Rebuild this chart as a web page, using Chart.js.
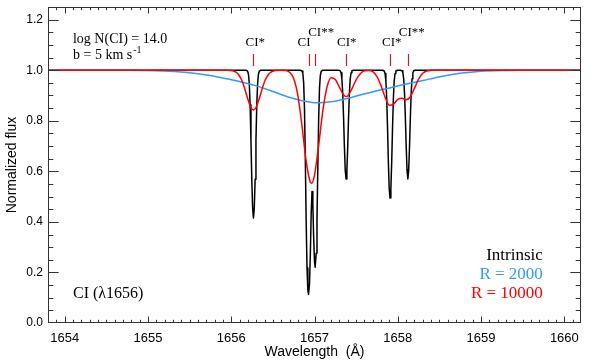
<!DOCTYPE html>
<html>
<head>
<meta charset="utf-8">
<script src="https://cdn.jsdelivr.net/npm/chart.js@4.4.1/dist/chart.umd.min.js"></script>
<style>
  html, body { margin: 0; padding: 0; background: #fff; }
</style>
</head>
<body>
<canvas id="chart" width="599" height="360"></canvas>
<script>
// ── DATOS ─────────────────────────────────────────────────────────────────────
var xTicks = [1654, 1655, 1656, 1657, 1658, 1659, 1660];
var yTicks = [0.0, 0.2, 0.4, 0.6, 0.8, 1.0, 1.2];

// lineas del multiplete CI 1656
var lineWave  = [1656.267, 1656.928, 1657.008, 1657.379, 1657.907, 1658.121];
var lineLabel = ['CI*', 'CI', 'CI**', 'CI*', 'CI*', 'CI**'];

// espectro intrinseco (negro)
var intrinsicWave = [
  1653.8,
  1656.177, 1656.197, 1656.207, 1656.217, 1656.227, 1656.237, 1656.247, 1656.257, 1656.267,
  1656.277, 1656.287, 1656.297, 1656.307, 1656.317, 1656.327, 1656.337, 1656.357,
  1656.83, 1656.85, 1656.86, 1656.87, 1656.88, 1656.89, 1656.90, 1656.91, 1656.92, 1656.928,
  1656.94, 1656.95, 1656.96, 1656.97, 1656.98, 1656.99, 1657.00, 1657.008, 1657.02, 1657.03,
  1657.04, 1657.05, 1657.06, 1657.07, 1657.08, 1657.10,
  1657.289, 1657.309, 1657.319, 1657.329, 1657.339, 1657.349, 1657.359, 1657.369, 1657.379,
  1657.389, 1657.399, 1657.409, 1657.419, 1657.429, 1657.439, 1657.449, 1657.469,
  1657.817, 1657.837, 1657.847, 1657.857, 1657.867, 1657.877, 1657.887, 1657.897, 1657.907,
  1657.917, 1657.927, 1657.937, 1657.947, 1657.957, 1657.967, 1657.977, 1657.997,
  1658.031, 1658.051, 1658.061, 1658.071, 1658.081, 1658.091, 1658.101, 1658.111, 1658.121,
  1658.131, 1658.141, 1658.151, 1658.161, 1658.171, 1658.181, 1658.191, 1658.211,
  1660.2
];
var intrinsicFlux = [
  1.0,
  1.0, 0.996, 0.984, 0.947, 0.862, 0.723, 0.569, 0.455, 0.415,
  0.455, 0.569, 0.723, 0.862, 0.947, 0.984, 0.996, 1.0,
  1.0, 0.997, 0.987, 0.949, 0.845, 0.645, 0.402, 0.218, 0.131, 0.113,
  0.155, 0.270, 0.430, 0.520, 0.470, 0.338, 0.243, 0.221, 0.276, 0.414,
  0.616, 0.808, 0.928, 0.979, 0.995, 1.0,
  1.0, 0.998, 0.990, 0.966, 0.909, 0.813, 0.698, 0.605, 0.570,
  0.605, 0.698, 0.813, 0.909, 0.966, 0.990, 0.998, 1.0,
  1.0, 0.997, 0.987, 0.957, 0.888, 0.772, 0.636, 0.532, 0.494,
  0.532, 0.636, 0.772, 0.888, 0.957, 0.987, 0.997, 1.0,
  1.0, 0.998, 0.990, 0.966, 0.909, 0.813, 0.698, 0.605, 0.570,
  0.605, 0.698, 0.813, 0.909, 0.966, 0.990, 0.998, 1.0,
  1.0
];

// R = 2000 (azul)
var r2000Wave = [
  1653.8, 1654.8, 1655.0, 1655.25, 1655.5, 1655.75, 1655.95, 1656.1, 1656.3, 1656.5,
  1656.65, 1656.8, 1656.95, 1657.05, 1657.2, 1657.35, 1657.55, 1657.75, 1657.9, 1658.1,
  1658.3, 1658.45, 1658.65, 1658.8, 1659.0, 1659.25, 1659.5, 1660.2
];
var r2000Flux = [
  1.0, 1.0, 0.999, 0.996, 0.990, 0.979, 0.966, 0.955, 0.938, 0.916,
  0.898, 0.883, 0.873, 0.871, 0.875, 0.885, 0.902, 0.919, 0.930, 0.945,
  0.959, 0.970, 0.983, 0.990, 0.996, 0.999, 1.0, 1.0
];

// R = 10000 (rojo)
var r10000Wave = [
  1653.8, 1655.947, 1655.987, 1656.027, 1656.067, 1656.087, 1656.107, 1656.127, 1656.147,
  1656.167, 1656.187, 1656.207, 1656.227, 1656.247, 1656.267, 1656.287, 1656.307, 1656.327,
  1656.347, 1656.367, 1656.387, 1656.407, 1656.427, 1656.447, 1656.467, 1656.507, 1656.547,
  1656.60, 1656.65, 1656.70, 1656.75, 1656.80, 1656.85, 1656.90, 1656.95, 1656.966, 1657.00,
  1657.05, 1657.10, 1657.15, 1657.20, 1657.25, 1657.30, 1657.35, 1657.379, 1657.40, 1657.45,
  1657.50, 1657.55, 1657.60, 1657.65, 1657.70, 1657.75, 1657.80, 1657.85, 1657.90, 1657.95,
  1658.00, 1658.05, 1658.10, 1658.15, 1658.20, 1658.25, 1658.30, 1658.35, 1658.40, 1658.45,
  1660.2
];
var r10000Flux = [
  1.0, 1.0, 0.999, 0.997, 0.990, 0.983, 0.973, 0.960, 0.942,
  0.921, 0.899, 0.878, 0.859, 0.847, 0.843, 0.847, 0.859, 0.878,
  0.899, 0.921, 0.942, 0.960, 0.973, 0.983, 0.990, 0.997, 0.999,
  1.0, 0.999, 0.992, 0.967, 0.900, 0.780, 0.640, 0.557, 0.553, 0.585,
  0.703, 0.839, 0.933, 0.970, 0.963, 0.932, 0.902, 0.896, 0.899, 0.927,
  0.962, 0.986, 0.998, 0.999, 0.994, 0.975, 0.938, 0.891, 0.861, 0.866,
  0.885, 0.889, 0.883, 0.894, 0.928, 0.965, 0.988, 0.997, 0.9995, 1.0,
  1.0
];

var legendText  = ['Intrinsic', 'R = 2000', 'R = 10000'];
var COL_BLACK = '#000000';
var COL_BLUE  = '#3399ff';
var COL_RED   = '#ff0000';
var COL_MARK  = '#b02828';

function puntos(w, f) {
  return w.map(function(v, i) { return { x: v, y: f[i] }; });
}

// ── EJES, TICKS Y TEXTOS ──────────────────────────────────────────────────────
var marcoPlugin = {
  id: 'marco',
  afterDatasetsDraw: function(chart) {
    var ctx = chart.ctx, a = chart.chartArea;
    var xs = chart.scales.x, ys = chart.scales.y;
    ctx.save();

    // marco
    ctx.strokeStyle = '#333';
    ctx.lineWidth = 1;
    ctx.strokeRect(a.left + 0.5, a.top + 0.5, a.right - a.left - 1, a.bottom - a.top - 1);

    // ticks hacia adentro (estilo IDL)
    var xMaj = 6.5, xMin = 3.2, yMaj = 10.7, yMin = 5.3;
    ctx.beginPath();
    for (var i = 1; i < 64; i++) {
      var v = Math.round((1653.8 + i * 0.1) * 10) / 10;
      var px = Math.round(xs.getPixelForValue(v)) + 0.5;
      var len = (Math.abs(v - Math.round(v)) < 1e-6) ? xMaj : xMin;
      ctx.moveTo(px, a.bottom); ctx.lineTo(px, a.bottom - len);
      ctx.moveTo(px, a.top);    ctx.lineTo(px, a.top + len);
    }
    for (var j = 1; j < 25; j++) {
      var yv = j * 0.05;
      var py = Math.round(ys.getPixelForValue(yv)) + 0.5;
      var ylen = (j % 4 === 0) ? yMaj : yMin;
      ctx.moveTo(a.left, py);  ctx.lineTo(a.left + ylen, py);
      ctx.moveTo(a.right, py); ctx.lineTo(a.right - ylen, py);
    }
    ctx.stroke();

    // marcas de las lineas
    ctx.strokeStyle = COL_MARK;
    ctx.lineWidth = 1.2;
    ctx.beginPath();
    lineWave.forEach(function(w) {
      var px = Math.round(xs.getPixelForValue(w)) + 0.5;
      ctx.moveTo(px, ys.getPixelForValue(1.017));
      ctx.lineTo(px, ys.getPixelForValue(1.064));
    });
    ctx.stroke();

    // etiquetas de las lineas
    var dx = [-8, -11, -7, -9, -8, -9];
    ctx.fillStyle = '#000';
    ctx.font = '13px "Liberation Serif", "Times New Roman", serif';
    ctx.textAlign = 'left';
    ctx.textBaseline = 'alphabetic';
    lineLabel.forEach(function(t, k) {
      var px = xs.getPixelForValue(lineWave[k]) + dx[k];
      var yv = (t === 'CI**') ? 1.137 : 1.094;
      ctx.fillText(t, px, ys.getPixelForValue(yv));
    });

    // textos de la esquina superior
    var x0 = xs.getPixelForValue(1654.1);
    ctx.font = '14px "Liberation Serif", "Times New Roman", serif';
    ctx.fillText('log N(CI) = 14.0', x0, ys.getPixelForValue(1.108));
    var yb = ys.getPixelForValue(1.044);
    var t1 = 'b = 5 km s';
    ctx.fillText(t1, x0, yb);
    var w1 = ctx.measureText(t1).width;
    ctx.font = '10px "Liberation Serif", "Times New Roman", serif';
    ctx.fillText('-1', x0 + w1 + 1, yb - 6);

    // CI (λ1656)
    ctx.font = '16px "Liberation Serif", "Times New Roman", serif';
    ctx.fillText('CI (\u03bb1656)', x0, ys.getPixelForValue(0.099));

    // leyenda
    var xr = xs.getPixelForValue(1659.742);
    var cols = [COL_BLACK, COL_BLUE, COL_RED];
    var yl = [0.248, 0.173, 0.099];
    ctx.font = '17px "Liberation Serif", "Times New Roman", serif';
    ctx.textAlign = 'right';
    legendText.forEach(function(t, k) {
      ctx.fillStyle = cols[k];
      ctx.fillText(t, xr, ys.getPixelForValue(yl[k]));
    });

    // titulos de ejes
    ctx.fillStyle = '#000';
    ctx.font = '14px "Liberation Sans", Arial, sans-serif';
    ctx.textAlign = 'center';
    ctx.textBaseline = 'middle';
    ctx.fillText('Wavelength  (\u00c5)', (a.left + a.right) / 2, 352);
    ctx.save();
    ctx.translate(12, (a.top + a.bottom) / 2);
    ctx.rotate(-Math.PI / 2);
    ctx.fillText('Normalized flux', 0, 0);
    ctx.restore();

    ctx.restore();
  }
};

// ── GRAFICO ───────────────────────────────────────────────────────────────────
var ctx = document.getElementById('chart').getContext('2d');
var grafico = new Chart(ctx, {
  type: 'line',
  data: {
    datasets: [
      {
        label: 'R = 10000',
        data: puntos(r10000Wave, r10000Flux),
        borderColor: COL_RED,
        borderWidth: 1.5,
        pointRadius: 0,
        cubicInterpolationMode: 'monotone',
        order: 0
      },
      {
        label: 'R = 2000',
        data: puntos(r2000Wave, r2000Flux),
        borderColor: COL_BLUE,
        borderWidth: 1.5,
        pointRadius: 0,
        cubicInterpolationMode: 'monotone',
        order: 1
      },
      {
        label: 'Intrinsic',
        data: puntos(intrinsicWave, intrinsicFlux),
        borderColor: COL_BLACK,
        borderWidth: 1.5,
        borderJoinStyle: 'round',
        pointRadius: 0,
        tension: 0,
        order: 2
      }
    ]
  },
  options: {
    responsive: false,
    animation: false,
    devicePixelRatio: 1,
    layout: { padding: { top: 7, right: 18, left: 0, bottom: 0 } },
    plugins: { legend: { display: false }, tooltip: { enabled: false } },
    scales: {
      x: {
        type: 'linear',
        min: 1653.8,
        max: 1660.2,
        grid: { display: false, drawTicks: false },
        border: { display: false },
        afterBuildTicks: function(s) { s.ticks = xTicks.map(function(v) { return { value: v }; }); },
        afterFit: function(s) { s.height = 37; s.paddingLeft = 0; s.paddingRight = 0; },
        ticks: {
          padding: 8,
          maxRotation: 0,
          autoSkip: false,
          color: '#000',
          font: { family: '"Liberation Sans", Arial, sans-serif', size: 13 },
          callback: function(v) { return String(v); }
        }
      },
      y: {
        type: 'linear',
        min: 0,
        max: 1.25,
        grid: { display: false, drawTicks: false },
        border: { display: false },
        afterBuildTicks: function(s) { s.ticks = yTicks.map(function(v) { return { value: v }; }); },
        afterFit: function(s) { s.width = 48; s.paddingTop = 0; s.paddingBottom = 0; },
        ticks: {
          padding: 5,
          color: '#000',
          font: { family: '"Liberation Sans", Arial, sans-serif', size: 12 },
          callback: function(v) { return v.toFixed(1); }
        }
      }
    }
  },
  plugins: [marcoPlugin]
});
</script>
</body>
</html>
